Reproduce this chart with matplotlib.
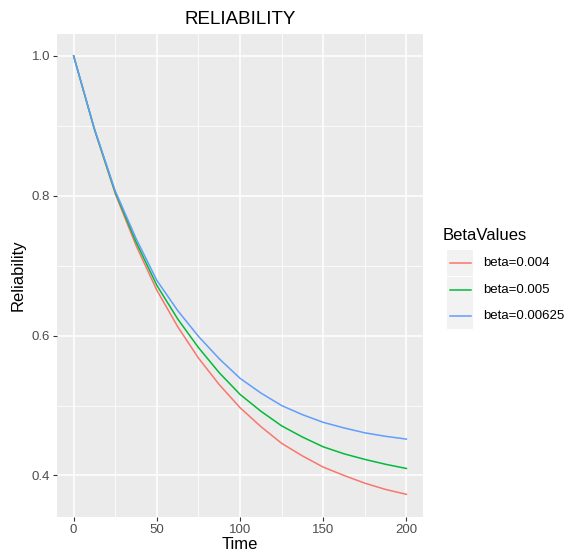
import matplotlib
matplotlib.use("Agg")
import matplotlib.pyplot as plt
from matplotlib.patches import Rectangle
from matplotlib.lines import Line2D

plt.rcParams['font.family'] = ['Liberation Sans', 'DejaVu Sans']

# Data
time = [0, 12.5, 25, 37.5, 50, 62.5, 75, 87.5, 100, 112.5, 125, 137.5, 150, 162.5, 175, 187.5, 200]
beta_0004 = [1.0, 0.895, 0.803, 0.729, 0.665, 0.613, 0.568, 0.530, 0.497, 0.470, 0.446, 0.428, 0.412, 0.400, 0.389, 0.380, 0.373]
beta_0005 = [1.0, 0.895, 0.805, 0.734, 0.672, 0.624, 0.583, 0.547, 0.516, 0.492, 0.471, 0.455, 0.441, 0.431, 0.423, 0.416, 0.410]
beta_00625 = [1.0, 0.896, 0.807, 0.739, 0.679, 0.636, 0.599, 0.567, 0.539, 0.518, 0.500, 0.487, 0.476, 0.468, 0.461, 0.456, 0.452]
labels = ["beta=0.004", "beta=0.005", "beta=0.00625"]
colors = ["#F8766D", "#00BA38", "#619CFF"]
series = [beta_0004, beta_0005, beta_00625]
x_ticks = [0, 50, 100, 150, 200]
y_ticks = [0.4, 0.6, 0.8, 1.0]

W, H = 569, 559
fig = plt.figure(figsize=(W / 100, H / 100), dpi=100)

def fx(px):
    return px / W

def fy(py):
    return 1 - py / H

left, right, top, bottom = 57, 423, 34, 517
ax = fig.add_axes([fx(left), fy(bottom), fx(right) - fx(left), fy(top) - fy(bottom)])
ax.set_facecolor("#EBEBEB")
for s in ax.spines.values():
    s.set_visible(False)

for vals, c, lab in zip(series, colors, labels):
    ax.plot(time, vals, color=c, lw=1.1, label=lab, zorder=3, solid_joinstyle="round")

ax.set_xlim(-10, 210)
ax.set_ylim(0.3406, 1.0314)
ax.set_xticks(x_ticks)
ax.set_xticklabels([str(v) for v in x_ticks])
ax.set_yticks(y_ticks)
ax.set_yticklabels([f"{v:.1f}" for v in y_ticks])
ax.set_xticks([25, 75, 125, 175], minor=True)
ax.set_yticks([0.5, 0.7, 0.9], minor=True)
ax.grid(which="major", color="white", lw=1.1, zorder=0)
ax.grid(which="minor", color="white", lw=0.55, zorder=0)
ax.set_axisbelow(True)
ax.tick_params(which="major", length=3, width=0.8, color="#333333", labelcolor="#4D4D4D",
               labelsize=9.5, pad=2)
ax.tick_params(which="minor", length=0)

ax.set_xlabel("Time", fontsize=12, color="black", labelpad=1)
ax.set_ylabel("Reliability", fontsize=12, color="black", labelpad=4)
ax.set_title("RELIABILITY", fontsize=13.5, color="black", pad=7)

# Legend (ggplot style)
fig.text(fx(443), fy(236), "BetaValues", fontsize=12, ha="left", va="center", color="black")
rows = [263, 290, 316]
for r, c, lab in zip(rows, colors, labels):
    fig.add_artist(Rectangle((fx(447), fy(r + 13)), fx(26), fy(0) - fy(26),
                             transform=fig.transFigure, facecolor="#F2F2F2", edgecolor="none"))
    fig.add_artist(Line2D([fx(449.5), fx(470.5)], [fy(r), fy(r)], transform=fig.transFigure,
                          color=c, lw=1.1))
    fig.text(fx(483), fy(r), lab, fontsize=9.5, ha="left", va="center", color="black")

fig.savefig("out.png", dpi=100)
